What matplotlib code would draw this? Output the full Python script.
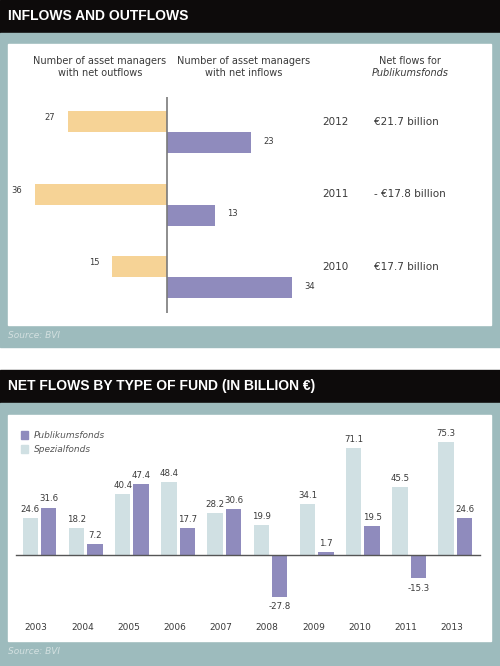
import matplotlib.pyplot as plt
from matplotlib.patches import Rectangle, Patch

# top chart data
flow_years = ["2012", "2011", "2010"]
outflow_mgrs = [27, 36, 15]
inflow_mgrs = [23, 13, 34]
net_flow_text = ["€21.7 billion", "- €17.8 billion", "€17.7 billion"]

# bottom chart data
fund_years = ["2003", "2004", "2005", "2006", "2007", "2008", "2009", "2010", "2011", "2013"]
spezial = [24.6, 18.2, 40.4, 48.4, 28.2, 19.9, 34.1, 71.1, 45.5, 75.3]
publikum = [31.6, 7.2, 47.4, 17.7, 30.6, -27.8, 1.7, 19.5, -15.3, 24.6]

ORANGE = "#f6d396"
PURPLE = "#8f8bbd"
LIGHT = "#d0e0e3"
TEAL = "#9dbbbd"
TXT = "#3a3a3a"

W, H = 500, 666
fig = plt.figure(figsize=(5, 6.66), dpi=100)
plt.rcParams['font.family'] = ['DejaVu Sans']

# background in pixel coords
bg = fig.add_axes([0, 0, 1, 1])
bg.set_xlim(0, W)
bg.set_ylim(H, 0)
bg.axis("off")
bg.add_patch(Rectangle((0, 0), W, 33, color="#0d0b0b"))
bg.add_patch(Rectangle((0, 33), W, 314, color=TEAL))
bg.add_patch(Rectangle((8, 44), 483, 281, color="white"))
bg.add_patch(Rectangle((0, 370), W, 33, color="#0d0b0b"))
bg.add_patch(Rectangle((0, 403), W, 263, color=TEAL))
bg.add_patch(Rectangle((8, 415), 483, 226, color="white"))
bg.text(8, 16, "INFLOWS AND OUTFLOWS", color="white", fontsize=10,
        fontweight="bold", family="Liberation Sans", va="center")
bg.text(8, 386, "NET FLOWS BY TYPE OF FUND (IN BILLION €)", color="white",
        fontsize=10, fontweight="bold", family="Liberation Sans", va="center")
bg.text(8, 336, "Source: BVI", color="#d3e0e0", fontsize=6.5, style="italic", va="center")
bg.text(8, 652, "Source: BVI", color="#d3e0e0", fontsize=6.5, style="italic", va="center")


def px_axes(x0, y0, x1, y1):
    return fig.add_axes([x0 / W, 1 - y1 / H, (x1 - x0) / W, (y1 - y0) / H])


# ---- top chart ----
ax1 = px_axes(8, 44, 491, 325)
ax1.axis("off")
ax1.set_xlim(-43.3, 88.3)
ax1.set_ylim(2.66, -1.214)
pos = list(range(len(flow_years)))
bh = 0.29
ax1.barh([p - bh / 2 for p in pos], [-v for v in outflow_mgrs], height=bh, color=ORANGE)
ax1.barh([p + bh / 2 for p in pos], inflow_mgrs, height=bh, color=PURPLE)
ax1.vlines(0, -0.483, 2.497, color="#7a7a7a", lw=1.2)
for p, o, i, y, t in zip(pos, outflow_mgrs, inflow_mgrs, flow_years, net_flow_text):
    ax1.annotate(str(o), (-o, p - bh / 2 - 0.05), xytext=(-9, 0), textcoords="offset points",
                 ha="right", va="center", fontsize=6, color=TXT)
    ax1.annotate(str(i), (i, p + bh / 2 - 0.02), xytext=(9, 0), textcoords="offset points",
                 ha="left", va="center", fontsize=6, color=TXT)
    ax1.text(0.677, p - bh / 2, y, transform=ax1.get_yaxis_transform(),
             ha="center", va="center", fontsize=7.5, color=TXT)
    ax1.text(0.758, p - bh / 2, t, transform=ax1.get_yaxis_transform(),
             ha="left", va="center", fontsize=7.5, color=TXT)
hy = -0.9
ax1.text(0.19, hy, "Number of asset managers\nwith net outflows", transform=ax1.get_yaxis_transform(),
         ha="center", va="center", fontsize=7, color=TXT, linespacing=1.2)
ax1.text(0.487, hy, "Number of asset managers\nwith net inflows", transform=ax1.get_yaxis_transform(),
         ha="center", va="center", fontsize=7, color=TXT, linespacing=1.2)
ax1.text(0.832, hy - 0.08, "Net flows for", transform=ax1.get_yaxis_transform(),
         ha="center", va="center", fontsize=7, color=TXT)
ax1.text(0.832, hy + 0.08, "Publikumsfonds", transform=ax1.get_yaxis_transform(),
         ha="center", va="center", fontsize=7, color=TXT, style="italic")

# ---- bottom chart ----
ax2 = px_axes(8, 415, 491, 641)
ax2.axis("off")
ax2.set_xlim(-0.682, 9.773)
ax2.set_ylim(-57.3, 93.3)
x = list(range(len(fund_years)))
bw = 0.335
off = 0.2
ax2.bar([i - off for i in x], spezial, width=bw, color=LIGHT)
ax2.bar([i + off for i in x], publikum, width=bw, color=PURPLE)
ax2.plot([-0.511, 9.535], [0, 0], color="#555555", lw=1)
for i, s, p, yr in zip(x, spezial, publikum, fund_years):
    ax2.annotate(f"{s}", (i - off, s), xytext=(0, 3), textcoords="offset points",
                 ha="center", va="bottom", fontsize=6.2, color=TXT)
    if p >= 0:
        ax2.annotate(f"{p}", (i + off, p), xytext=(0, 3), textcoords="offset points",
                     ha="center", va="bottom", fontsize=6.2, color=TXT)
    else:
        ax2.annotate(f"{p}", (i + off, p), xytext=(0, -4), textcoords="offset points",
                     ha="center", va="top", fontsize=6.2, color=TXT)
    ax2.text(i - 0.07, -48, yr, ha="center", va="center", fontsize=6.5, color=TXT)

handles = [Patch(color=PURPLE, label="Publikumsfonds"), Patch(color=LIGHT, label="Spezialfonds")]
leg = ax2.legend(handles=handles, loc="upper left", bbox_to_anchor=(0.02, 0.945), frameon=False,
                 prop={"size": 6.5, "style": "italic"}, handlelength=0.8, handleheight=1.0,
                 handletextpad=0.6, labelspacing=0.5, borderaxespad=0)
for t in leg.get_texts():
    t.set_color("#555555")

fig.savefig("out.png", dpi=100)
